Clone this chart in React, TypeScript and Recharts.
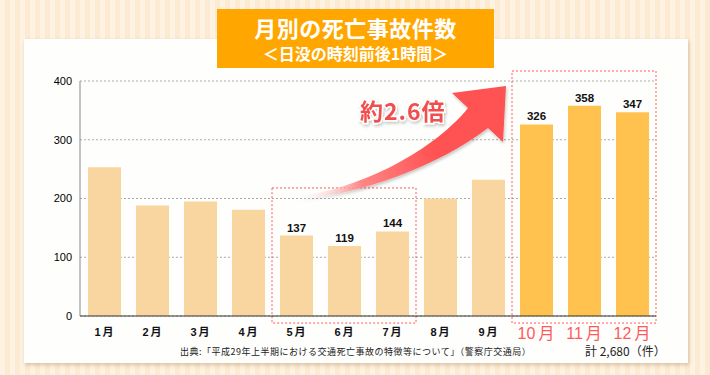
import { BarChart, Bar, XAxis, YAxis, CartesianGrid, Cell, LabelList, ReferenceArea } from "recharts";

const months = ["1月", "2月", "3月", "4月", "5月", "6月", "7月", "8月", "9月", "10月", "11月", "12月"];
const counts = [253, 188, 195, 181, 137, 119, 144, 200, 232, 326, 358, 347];
// months whose value is printed above the bar
const labelledMonths = ["5月", "6月", "7月", "10月", "11月", "12月"];
// months around sunset in the darker colour
const eveningMonths = ["10月", "11月", "12月"];
const yTicks = [0, 100, 200, 300, 400];
const totalText = "計 2,680（件）";
const sourceText = "出典:「平成29年上半期における交通死亡事故の特徴等について」（警察庁交通局）";

const data = months.map((month, i) => ({
    month,
    count: counts[i],
    label: labelledMonths.includes(month) ? counts[i] : undefined,
}));

const NUM_FONT = "'Liberation Sans', Arial, 'Noto Sans CJK JP', sans-serif";
const JP_FONT = "'Noto Sans CJK JP', 'Liberation Sans', sans-serif";

const LIGHT = "#F9D59F";
const DARK = "#FFC24F";
const RED = "#FF5A5A";

function MonthTick({ x, y, payload }: any) {
    const evening = eveningMonths.includes(payload.value);
    const num = String(payload.value).replace("月", "");
    return (
        <text
            x={x}
            y={y + (evening ? 15 : 12)}
            textAnchor="middle"
            fill={evening ? RED : "#111"}
            fontSize={evening ? 16 : 11}
            fontWeight={evening ? "normal" : "bold"}
            fontFamily={NUM_FONT}
        >
            {num}
            <tspan dx={evening ? 3 : 2} fontFamily={JP_FONT}>月</tspan>
        </text>
    );
}

export default function App() {
    return (
        <div
            style={{
                position: "absolute",
                left: 0,
                top: 0,
                width: 710,
                height: 375,
                overflow: "hidden",
                background: "repeating-linear-gradient(90deg, #FEF3E3 0px, #FEF3E3 5px, #FCEAD2 5px, #FCEAD2 10px)",
            }}
        >
            {/* white panel */}
            <div
                style={{
                    position: "absolute",
                    left: 24,
                    top: 39,
                    width: 664,
                    height: 324,
                    background: "#FEFEFD",
                    boxShadow: "1px 2px 4px rgba(150, 110, 60, 0.35)",
                }}
            />

            {/* title box */}
            <div
                style={{
                    position: "absolute",
                    left: 217,
                    top: 9,
                    width: 277,
                    height: 59,
                    background: "#FFA700",
                    color: "#fff",
                    fontFamily: JP_FONT,
                    fontWeight: "bold",
                    textAlign: "center",
                }}
            >
                <div style={{ fontSize: 22, lineHeight: "22px", marginTop: 7, letterSpacing: 0.5 }}>月別の死亡事故件数</div>
                <div style={{ fontSize: 16, lineHeight: "16px", marginTop: 7 }}>＜日没の時刻前後1時間＞</div>
            </div>

            <div style={{ position: "absolute", left: 0, top: 0 }}>
                <BarChart
                    width={710}
                    height={375}
                    data={data}
                    margin={{ top: 81, right: 54, bottom: 29, left: 40 }}
                    barSize={33}
                >
                    <CartesianGrid vertical={false} strokeDasharray="2 2" stroke="#aaa" />
                    <XAxis
                        dataKey="month"
                        interval={0}
                        height={30}
                        tickLine={false}
                        tickSize={6}
                        tickMargin={2}
                        axisLine={{ stroke: "#333" }}
                        tick={<MonthTick />}
                    />
                    <YAxis
                        type="number"
                        domain={[0, 400]}
                        ticks={yTicks}
                        width={40}
                        tickLine={false}
                        tickSize={6}
                        tickMargin={2}
                        axisLine={{ stroke: "#888" }}
                        tick={{ fontSize: 11, fill: "#000", fontFamily: NUM_FONT }}
                    />
                    <Bar dataKey="count" isAnimationActive={false}>
                        {data.map((d) => (
                            <Cell key={d.month} fill={eveningMonths.includes(d.month) ? DARK : LIGHT} />
                        ))}
                        <LabelList
                            dataKey="label"
                            position="top"
                            offset={4}
                            fontSize={11.5}
                            fontWeight="bold"
                            fill="#111"
                            fontFamily={NUM_FONT}
                        />
                    </Bar>
                    <ReferenceArea
                        x1="5月"
                        x2="7月"
                        y1={-12}
                        y2={218}
                        ifOverflow="visible"
                        fill="none"
                        stroke={RED}
                        strokeDasharray="2 2"
                    />
                    <ReferenceArea
                        x1="10月"
                        x2="12月"
                        y1={-12}
                        y2={417}
                        ifOverflow="visible"
                        fill="none"
                        stroke={RED}
                        strokeDasharray="2 2"
                    />
                </BarChart>
            </div>

            {/* arrow, callout and footnotes */}
            <svg width={710} height={375} style={{ position: "absolute", left: 0, top: 0, pointerEvents: "none" }}>
                <defs>
                    <linearGradient id="arrowFill" gradientUnits="userSpaceOnUse" x1={296} y1={198} x2={430} y2={140}>
                        <stop offset="0" stopColor="#FFFFFF" stopOpacity="0" />
                        <stop offset="0.45" stopColor="#FF8585" />
                        <stop offset="1" stopColor="#FF5252" />
                    </linearGradient>
                    <filter id="soft" x="-10%" y="-10%" width="130%" height="130%">
                        <feDropShadow dx="1" dy="2" stdDeviation="1.5" floodColor="#000" floodOpacity="0.22" />
                    </filter>
                </defs>
                <path
                    d="M 296 196 C 350 192, 430 155, 468 108 L 452 93 L 506 86 L 503 142 L 488 128 C 440 165, 360 195, 300 199 Z"
                    fill="url(#arrowFill)"
                    filter="url(#soft)"
                />
                <text
                    x={360}
                    y={120}
                    fontSize={23}
                    fontWeight="bold"
                    fontFamily={JP_FONT}
                    fill="#F24E4E"
                    stroke="#fff"
                    strokeWidth={3}
                    paintOrder="stroke"
                    letterSpacing={1}
                    filter="url(#soft)"
                >
                    約2.6倍
                </text>
                <text x={180} y={355} fontSize={9} fontFamily={JP_FONT} fill="#222" letterSpacing={0.5}>
                    {sourceText}
                </text>
                <text x={585} y={356} fontSize={12} fontFamily={JP_FONT} fill="#222">
                    {totalText}
                </text>
            </svg>
        </div>
    );
}
